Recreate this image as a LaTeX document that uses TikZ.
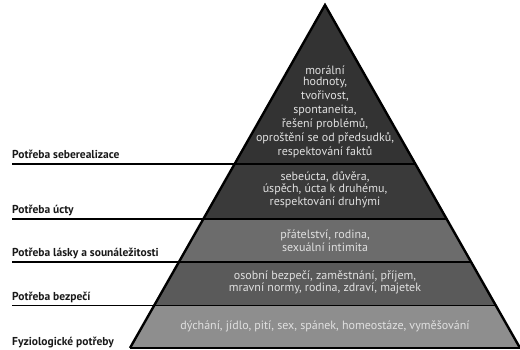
\documentclass[tikz,border=0pt]{standalone}
\usepackage{fontspec}
\setmainfont{PT Sans}
\definecolor{levelA}{HTML}{333333}
\definecolor{levelB}{HTML}{3A3A3A}
\definecolor{levelC}{HTML}{6C6C6C}
\definecolor{levelD}{HTML}{5A5A5A}
\definecolor{levelE}{HTML}{8E8E8E}
\begin{document}
\begin{tikzpicture}[x=1pt, y=-1pt,
  border/.style={line width=1.6pt},
  need/.style={anchor=base west, inner sep=0pt, text=black!90, font=\bfseries\fontsize{11.5}{13}\selectfont},
  items/.style={align=center, inner sep=0pt, text=white!88!black, font=\fontsize{12}{14}\selectfont}]
\useasboundingbox (0,0) rectangle (520,350);
\coordinate (apex) at (325,5);
\coordinate (bl) at (130,348);
\coordinate (br) at (520,348);
% band borders on the sides of the pyramid
\coordinate (l1) at (234.6,164); \coordinate (r1) at (415.4,164);
\coordinate (l2) at (203.3,219); \coordinate (r2) at (446.7,219);
\coordinate (l3) at (178.9,262); \coordinate (r3) at (471.1,262);
\coordinate (l4) at (154.2,305.5); \coordinate (r4) at (495.8,305.5);
\fill[levelA] (apex) -- (r1) -- (l1) -- cycle;
\fill[levelB] (l1) -- (r1) -- (r2) -- (l2) -- cycle;
\fill[levelC] (l2) -- (r2) -- (r3) -- (l3) -- cycle;
\fill[levelD] (l3) -- (r3) -- (r4) -- (l4) -- cycle;
\fill[levelE] (l4) -- (r4) -- (br) -- (bl) -- cycle;
% labels on the left
\coordinate (s1) at (12,164);
\coordinate (s2) at (12,219);
\coordinate (s3) at (12,262);
\coordinate (s4) at (12,305.5);
\node[need] (self) at (12,159) {Potřeba seberealizace};
\node[need] (esteem) at (12,213.5) {Potřeba úcty};
\node[need] (love) at (12,256.5) {Potřeba lásky a sounáležitosti};
\node[need] (safety) at (12,300) {Potřeba bezpečí};
\node[need] (body) at (12,345.5) {Fyziologické potřeby};
\foreach \i in {1,...,4}
  \draw[border] (s\i) -- (l\i) -- (r\i);
\draw[line width=2.4pt, line join=miter] (bl) -- (apex) -- (br);
\draw[line width=1.2pt] (bl) -- (br);
% contents of the bands
\node[items] (selftext) at (325,112) {morální\\[-3pt] hodnoty,\\ tvořivost,\\ spontaneita,\\ řešení problémů,\\ oproštění se od předsudků,\\ respektování faktů};
\node[items, font=\fontsize{12}{12.5}\selectfont] (esteemtext) at (325,189.5) {sebeúcta, důvěra,\\ úspěch, úcta k druhému,\\ respektování druhými};
\node[items, font=\fontsize{12}{13}\selectfont] (lovetext) at (325,240.5) {přátelství, rodina,\\ sexuální intimita};
\node[items, font=\fontsize{12}{12.5}\selectfont] (safetytext) at (325,282.5) {osobní bezpečí, zaměstnání, příjem,\\ mravní normy, rodina, zdraví, majetek};
\node[items] (bodytext) at (325,326.5) {dýchání, jídlo, pití, sex, spánek, homeostáze, vyměšování};
\end{tikzpicture}
\end{document}
